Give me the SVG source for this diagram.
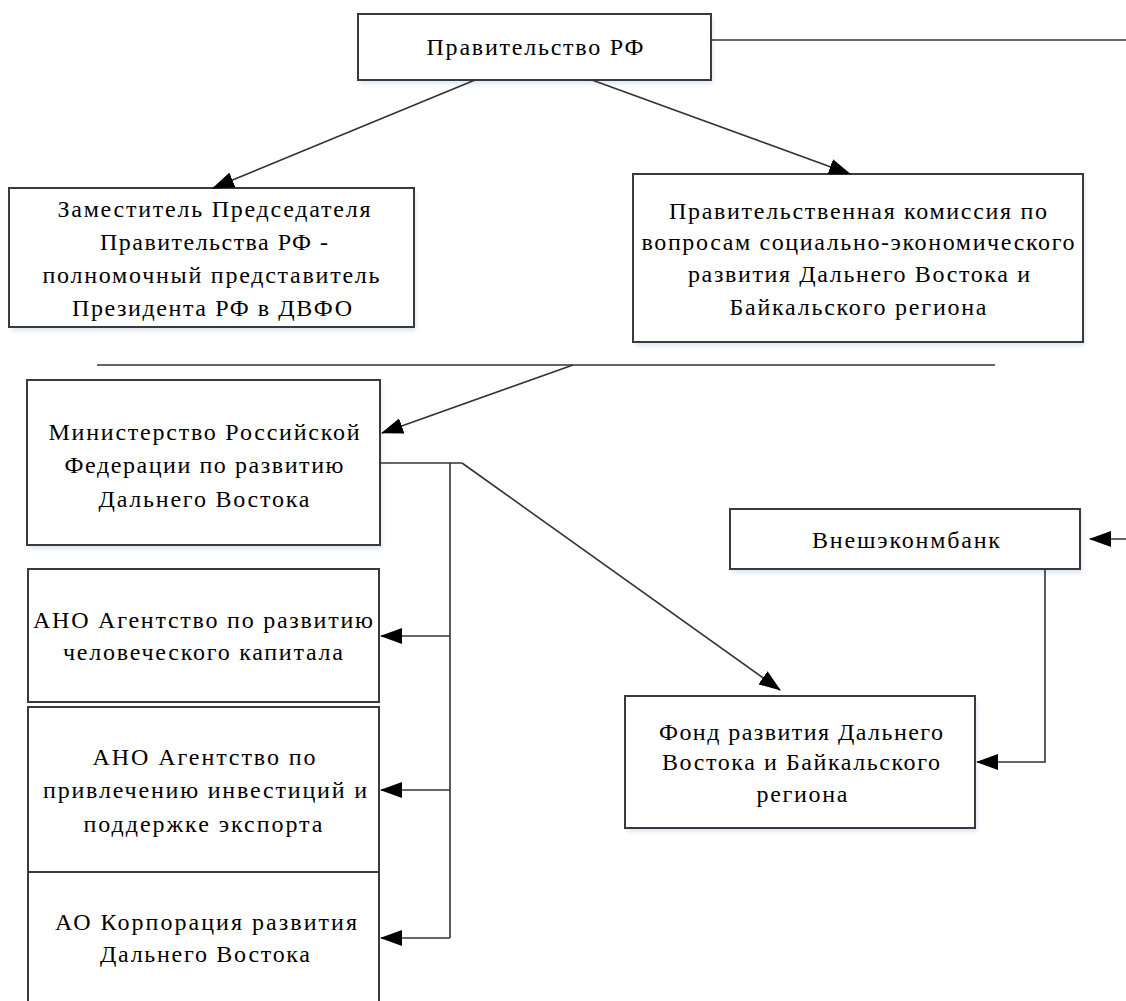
<svg xmlns="http://www.w3.org/2000/svg" width="1126" height="1001" viewBox="0 0 1126 1001" font-family="Liberation Serif, Tinos, DejaVu Serif, Noto Serif, FreeSerif, Times New Roman, serif">
<style>
.box{fill:#fff;stroke:#3a3a3a;stroke-width:2}
text{font-size:24px;fill:#000;text-anchor:middle}
.c{fill:none;stroke:#333;stroke-width:1.6}
.a{marker-end:url(#ah)}
</style>
<defs>
<marker id="ah" markerUnits="userSpaceOnUse" markerWidth="22" markerHeight="16" refX="21" refY="8" orient="auto">
<path d="M0,0 L22,8 L0,16 Z" fill="#000"/>
</marker>
<filter id="sh" x="-5%" y="-5%" width="110%" height="120%">
<feGaussianBlur stdDeviation="2"/>
</filter>
</defs>
<g id="shadows" fill="#c8d8ea" opacity="0.6" filter="url(#sh)">
<rect x="360" y="18" width="353" height="66"/>
<rect x="11" y="192" width="405" height="139"/>
<rect x="635" y="178" width="450" height="168"/>
<rect x="29" y="384" width="353" height="165"/>
<rect x="732" y="512" width="350" height="61"/>
<rect x="627" y="700" width="350" height="132"/>
</g>
<g id="n1"><rect class="box" x="358" y="14" width="353" height="66"/>
<text x="535" y="55" textLength="217">Правительство РФ</text></g>
<g id="n2"><rect class="box" x="9" y="188" width="405" height="139"/>
<text x="214" y="217" textLength="313">Заместитель Председателя</text>
<text x="214" y="250" textLength="228">Правительства РФ -</text>
<text x="211" y="283" textLength="337">полномочный представитель</text>
<text x="212" y="316" textLength="280">Президента РФ в ДВФО</text></g>
<g id="n3"><rect class="box" x="633" y="174" width="450" height="168"/>
<text x="858" y="219" textLength="378">Правительственная комиссия по</text>
<text x="858" y="250" textLength="433">вопросам социально-экономического</text>
<text x="859" y="282" textLength="342">развития Дальнего Востока и</text>
<text x="858" y="315" textLength="257">Байкальского региона</text></g>
<g id="n4"><rect class="box" x="27" y="380" width="353" height="165"/>
<text x="204" y="440" textLength="311">Министерство Российской</text>
<text x="204" y="473" textLength="279">Федерации по развитию</text>
<text x="204" y="507" textLength="211">Дальнего Востока</text></g>
<g id="n5"><rect class="box" x="28" y="569" width="351" height="133"/>
<text x="203" y="628" textLength="340">АНО Агентство по развитию</text>
<text x="203" y="660" textLength="280">человеческого капитала</text></g>
<g id="n6"><rect class="box" x="28" y="707" width="351" height="165"/>
<text x="204" y="765" textLength="223">АНО Агентство по</text>
<text x="205" y="798" textLength="324">привлечению инвестиций и</text>
<text x="203" y="832" textLength="239">поддержке экспорта</text></g>
<g id="n7"><rect class="box" x="28" y="872" width="351" height="140"/>
<text x="206" y="930" textLength="302">АО Корпорация развития</text>
<text x="205" y="962" textLength="210">Дальнего Востока</text></g>
<g id="n8"><rect class="box" x="730" y="509" width="350" height="60"/>
<text x="906" y="548" textLength="188">Внешэконмбанк</text></g>
<g id="n9"><rect class="box" x="625" y="696" width="350" height="132"/>
<text x="801" y="740" textLength="284">Фонд развития Дальнего</text>
<text x="801" y="770" textLength="278">Востока и Байкальского</text>
<text x="802" y="802" textLength="91">региона</text></g>
<g id="connectors">
<line class="c" x1="711" y1="40" x2="1126" y2="40"/>
<line class="c a" x1="475" y1="80" x2="213" y2="188"/>
<line class="c a" x1="592" y1="80" x2="850" y2="174"/>
<line class="c" x1="97" y1="365" x2="995" y2="365"/>
<line class="c a" x1="573" y1="365" x2="382" y2="433"/>
<polyline class="c" points="380,463 462,463"/>
<line class="c a" x1="462" y1="463" x2="780" y2="690"/>
<line class="c" x1="450" y1="463" x2="450" y2="938"/>
<line class="c a" x1="450" y1="636" x2="381" y2="636"/>
<line class="c a" x1="450" y1="790" x2="381" y2="790"/>
<line class="c a" x1="450" y1="938" x2="381" y2="938"/>
<line class="c a" x1="1126" y1="539" x2="1090" y2="539"/>
<polyline class="c a" points="1045,569 1045,762 977,762"/>
</g>
</svg>
